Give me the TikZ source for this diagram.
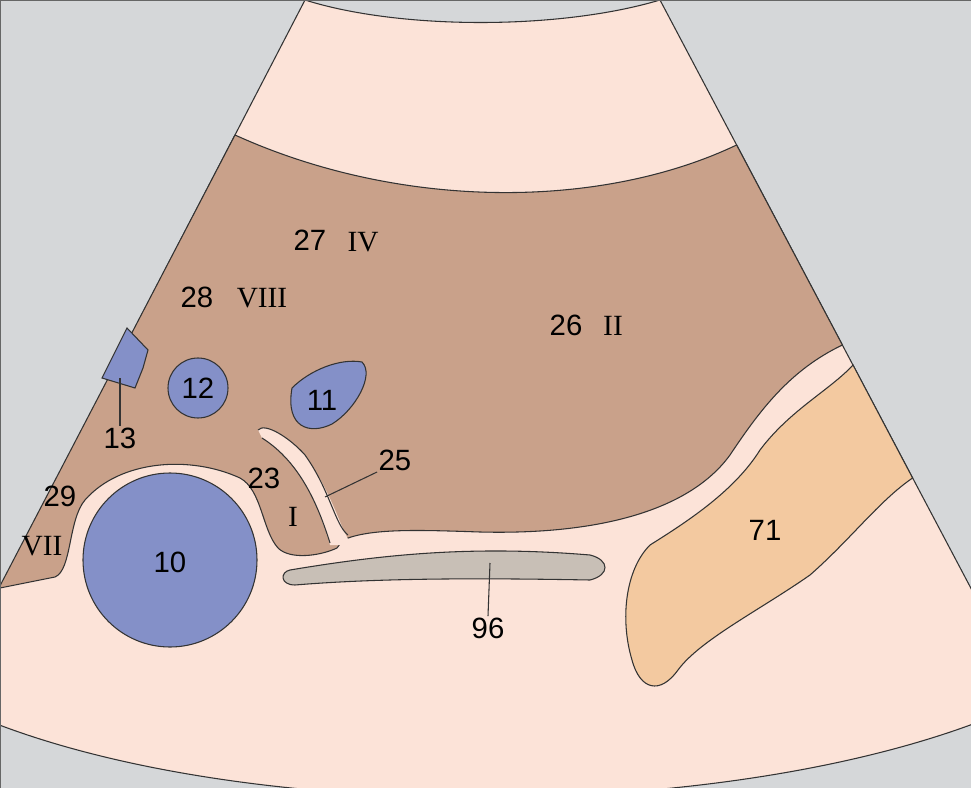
\documentclass[tikz,border=0pt]{standalone}
\usepackage{fontspec}
\setsansfont{Liberation Sans}
\setmainfont{Liberation Serif}
\definecolor{bgray}{HTML}{D5D7D9}
\definecolor{skin}{HTML}{FCE3D8}
\definecolor{liver}{HTML}{C9A18A}
\definecolor{vessel}{HTML}{8490C8}
\definecolor{kidney}{HTML}{F3C9A0}
\definecolor{duct}{HTML}{C8BFB6}
\tikzset{
  organ/.style={draw=black!80, line width=0.8pt},
  num/.style={font=\sffamily\fontsize{22}{24}\selectfont, inner sep=1pt},
  rom/.style={font=\rmfamily\fontsize{22}{24}\selectfont, inner sep=1pt},
  leader/.style={draw=black!80, line width=0.8pt}
}
\begin{document}
\begin{tikzpicture}[x=0.75pt,y=0.75pt,yscale=-1,xscale=1]
\useasboundingbox (0,0) rectangle (971,788);
%Background
\fill[bgray] (0,0) rectangle (971,788);
\begin{scope}
\clip (0,0) rectangle (971,788);
%Fan
\path[organ, fill=skin] (305,0) .. controls (400,30) and (560,30) .. (660,0) -- (1030,700)
  .. controls (760,830) and (200,830) .. (-58,700) -- cycle;
%Liver
\path[organ, fill=liver] (235,135) .. controls (400,210) and (600,210) .. (736.6,145) -- (842.4,345)
  .. controls (790,370) and (760,410) .. (730,455) .. controls (690,510) and (600,535) .. (480,532)
  .. controls (420,530) and (370,528) .. (343,540) -- (337,548)
  .. controls (320,556) and (290,560) .. (278,548) .. controls (262,530) and (262,490) .. (240,478)
  .. controls (190,455) and (120,460) .. (85,500) .. controls (68,520) and (72,570) .. (55,577)
  -- (0,588) -- (-10,605) -- cycle;
%Fissure
\path[fill=skin] (262,438) .. controls (300,462) and (318,505) .. (330,545) -- (352,545)
  .. controls (340,530) and (336,500) .. (305,455) .. controls (290,438) and (265,422) .. (258,430) -- cycle;
\draw[organ] (262,438) .. controls (300,462) and (318,505) .. (330,543);
\draw[organ] (258,430) .. controls (265,422) and (290,438) .. (305,455) .. controls (330,490) and (335,525) .. (348,535);
%Kidney
\path[organ, fill=kidney] (853,365) .. controls (830,390) and (790,410) .. (760,450)
  .. controls (735,490) and (690,520) .. (650,545) .. controls (625,570) and (620,620) .. (632,660)
  .. controls (640,690) and (660,695) .. (678,670) .. controls (700,640) and (760,610) .. (810,575)
  .. controls (850,540) and (880,500) .. (912.6,478) -- cycle;
%Duct
\path[organ, fill=duct] (290,570) .. controls (380,555) and (470,545) .. (590,555)
  .. controls (610,560) and (610,575) .. (590,580) .. controls (480,578) and (380,578) .. (295,585)
  .. controls (280,585) and (280,572) .. (290,570) -- cycle;
%Vessels
\path[organ, fill=vessel] (170,560) circle (87);
\path[organ, fill=vessel] (198,388) circle (30);
\path[organ, fill=vessel] (292,388) .. controls (310,370) and (340,358) .. (362,362)
  .. controls (375,375) and (355,410) .. (332,424) .. controls (310,435) and (285,428) .. (292,388) -- cycle;
\path[organ, fill=vessel] (127,328) -- (148,350) -- (143,368) -- (135,388) -- (102,378) -- cycle;
\end{scope}
%Labels
\node[num] (n10) at (170,562) {10};
\node[num] (n11) at (322,400) {11};
\node[num] (n12) at (198,388) {12};
\node[num] (n13) at (120,438) {13};
\coordinate (p13) at (120,378);
\draw[leader] (p13) -- (n13.north);
\node[num] (n27) at (310,240) {27};
\node[rom] (r4) at (363,242) {IV};
\node[num] (n28) at (197,297) {28};
\node[rom] (r8) at (262,298) {VIII};
\node[num] (n26) at (566,325) {26};
\node[rom] (r2) at (613,326) {II};
\node[num] (n23) at (264,478) {23};
\node[rom] (r1) at (293,517) {I};
\node[num] (n25) at (395,460) {25};
\coordinate (p25) at (325,497);
\draw[leader] (p25) -- (n25.south west);
\node[num] (n29) at (60,496) {29};
\node[rom] (r7) at (42,546) {VII};
\node[num] (n71) at (765,530) {71};
\node[num] (n96) at (488,628) {96};
\coordinate (p96) at (490,563);
\draw[leader] (p96) -- (n96.north);
\draw[black!60, line width=0.6pt] (0,0) rectangle (971,788);
\end{tikzpicture}
\end{document}
